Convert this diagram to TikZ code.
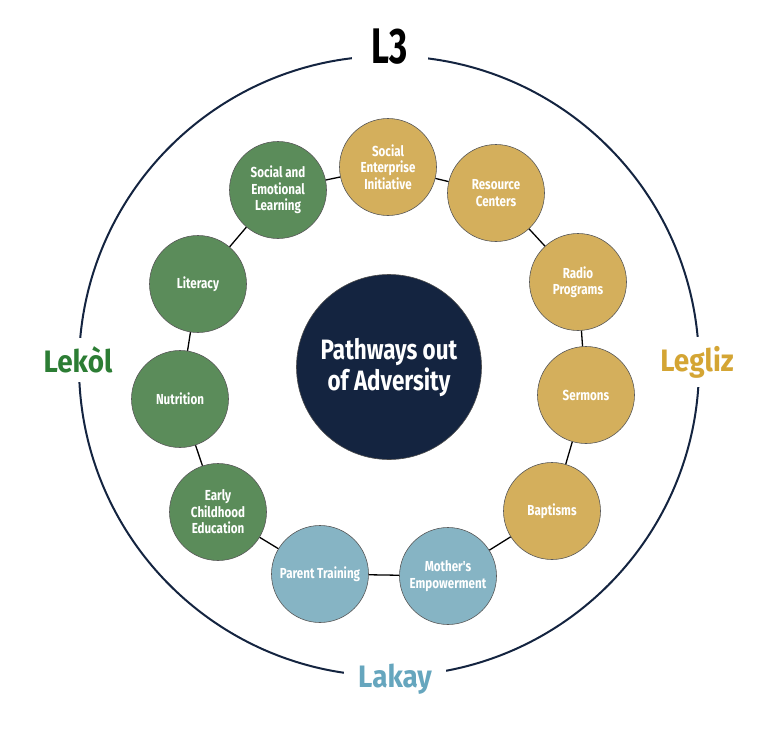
\documentclass[tikz,border=0pt]{standalone}
\usepackage{fontspec}
\setmainfont{Fira Sans}
\newfontfamily\condf{Fira Sans}[FakeStretch=0.8]
\newfontfamily\lthreef{Fira Sans}[FakeStretch=0.7]
\newfontfamily\labf{Fira Sans}[FakeStretch=0.9]
\definecolor{cgreen}{RGB}{91,140,90}
\definecolor{cgold}{RGB}{212,175,92}
\definecolor{cblue}{RGB}{134,180,196}
\definecolor{cnavy}{RGB}{20,36,64}
\definecolor{tgreen}{RGB}{44,125,52}
\definecolor{tgold}{RGB}{212,165,52}
\definecolor{tblue}{RGB}{102,166,190}
\begin{document}
\begin{tikzpicture}[x=1pt,y=-1pt,
  item/.style={circle,minimum size=97pt,inner sep=0pt,draw=black!65,line width=0.6pt,
    text=white,align=center,font=\condf\bfseries\fontsize{14.5}{16.5}\selectfont},
  gr/.style={item,fill=cgreen},
  go/.style={item,fill=cgold},
  bl/.style={item,fill=cblue},
  link/.style={draw=black,line width=1.3pt},
  ringlab/.style={fill=white,inner xsep=14pt,inner ysep=6pt,font=\labf\bfseries\fontsize{31}{34}\selectfont}]
\useasboundingbox (0,0) rectangle (766,750);
% outer circle
\draw[cnavy,line width=2pt] (389,366) circle[radius=310];
\node[ringlab,text=black,font=\lthreef\bfseries\fontsize{50}{52}\selectfont,inner xsep=20pt,inner ysep=2pt] (l3) at (390,47) {L3};
\node[ringlab,text=tgreen,inner xsep=2pt,inner ysep=9pt] (lekol) at (78,360) {Lekòl};
\node[ringlab,text=tgold,inner xsep=2pt,inner ysep=9pt] (legliz) at (697,362) {Legliz};
\node[ringlab,text=tblue] (lakay) at (395,679) {Lakay};
% center
\node[circle,fill=cnavy,draw=black!70,line width=0.6pt,minimum size=185pt,inner sep=0pt,
  text=white,align=center,font=\condf\bfseries\fontsize{28}{31}\selectfont] (center) at (389,367) {Pathways out\\of Adversity};
% ring items
\node[go] (sei) at (388,167) {Social\\Enterprise\\Initiative};
\node[go] (rc) at (496,193) {Resource\\Centers};
\node[go] (radio) at (578,282) {Radio\\Programs};
\node[go] (serm) at (586,395) {Sermons};
\node[go] (bapt) at (552,511) {Baptisms};
\node[bl] (moth) at (448,576) {Mother's\\Empowerment};
\node[bl] (par) at (320,574) {Parent Training};
\node[gr] (early) at (218,512) {Early\\Childhood\\Education};
\node[gr] (nut) at (180,399) {Nutrition};
\node[gr] (lit) at (198,284) {Literacy};
\node[gr] (sel) at (278,190) {Social and\\Emotional\\Learning};
% connectors
\draw[link] (sel) -- (sei);
\draw[link] (sei) -- (rc);
\draw[link] (rc) -- (radio);
\draw[link] (radio) -- (serm);
\draw[link] (serm) -- (bapt);
\draw[link] (bapt) -- (moth);
\draw[link] (moth) -- (par);
\draw[link] (par) -- (early);
\draw[link] (early) -- (nut);
\draw[link] (nut) -- (lit);
\draw[link] (lit) -- (sel);
\end{tikzpicture}
\end{document}
